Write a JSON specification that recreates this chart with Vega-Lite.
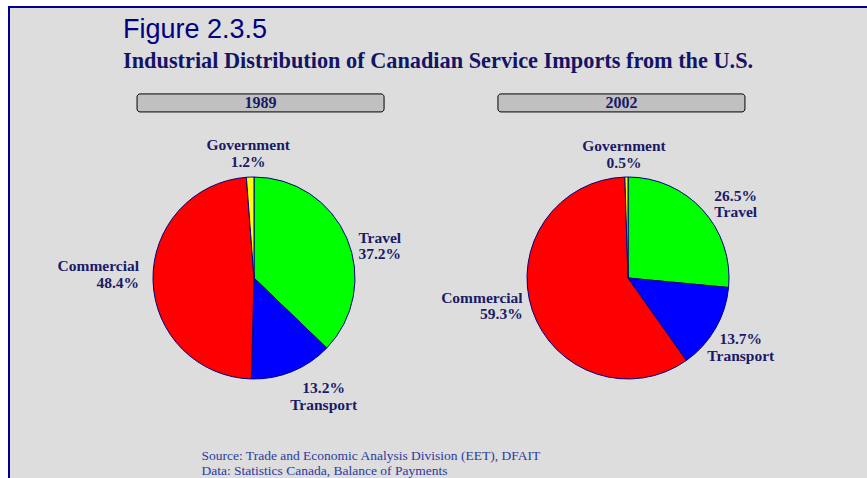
{
  "$schema": "https://vega.github.io/schema/vega-lite/v6.json",
  "width": 864,
  "height": 542,
  "autosize": {"type": "none"},
  "padding": {"left": 9, "top": 7, "right": -6, "bottom": -71},
  "background": "#FFFFFF",
  "view": {"fill": "#DDDDDD", "stroke": "#000090", "strokeWidth": 2},
  "title": {
    "text": "Figure 2.3.5",
    "subtitle": "Industrial Distribution of Canadian Service Imports from the U.S.",
    "anchor": "start",
    "frame": "group",
    "orient": "top",
    "dx": 114,
    "offset": -66,
    "font": "Liberation Sans",
    "fontSize": 27,
    "fontWeight": "normal",
    "color": "#000080",
    "subtitleFont": "Liberation Serif",
    "subtitleFontSize": 22.3,
    "subtitleFontWeight": "bold",
    "subtitleColor": "#141466",
    "subtitlePadding": 6
  },
  "datasets": {
    "shares": [
      {"year": "1989", "category": "Travel", "share": 37.2, "label": "Travel\n37.2%"},
      {"year": "1989", "category": "Transport", "share": 13.2, "label": "13.2%\nTransport"},
      {"year": "1989", "category": "Commercial", "share": 48.4, "label": "Commercial\n48.4%"},
      {"year": "1989", "category": "Government", "share": 1.2, "label": "Government\n1.2%"},
      {"year": "2002", "category": "Travel", "share": 26.5, "label": "26.5%\nTravel"},
      {"year": "2002", "category": "Transport", "share": 13.7, "label": "13.7%\nTransport"},
      {"year": "2002", "category": "Commercial", "share": 59.3, "label": "Commercial\n59.3%"},
      {"year": "2002", "category": "Government", "share": 0.5, "label": "Government\n0.5%"}
    ],
    "years": [{"year": "1989"}, {"year": "2002"}]
  },
  "resolve": {"scale": {"x": "independent", "y": "independent"}},
  "layer": [
    {
      "data": {"name": "years"},
      "encoding": {
        "x": {
          "field": "year", "type": "nominal",
          "scale": {"type": "point", "domain": ["1989", "2002"], "padding": 0.697},
          "axis": {
            "orient": "bottom", "labels": false, "ticks": false, "domain": false, "grid": false,
            "title": ["Source: Trade and Economic Analysis Division (EET), DFAIT", "Data: Statistics Canada, Balance of Payments"],
            "titleX": 192, "titleY": -90, "titleAlign": "left", "titleAnchor": "start", "titleBaseline": "alphabetic",
            "titleFont": "Liberation Serif", "titleFontSize": 13.5, "titleFontWeight": "normal",
            "titleColor": "#2b3aa0", "titleLineHeight": 15
          }
        },
        "y": {"datum": "header", "type": "nominal", "scale": {"type": "point", "align": 0.177}, "axis": null}
      },
      "layer": [
        {
          "mark": {"type": "rect", "width": 247, "height": 18, "cornerRadius": 3, "fill": "#C0C0C0", "stroke": "#000000", "strokeWidth": 1}
        },
        {
          "mark": {"type": "text", "font": "Liberation Serif", "fontWeight": "bold", "fontSize": 16, "color": "#1a1a66", "baseline": "middle"},
          "encoding": {
            "text": {"field": "year"}
          }
        }
      ]
    },
    {
      "data": {"name": "shares"},
      "transform": [
        {"filter": "datum.year == '1989'"},
        {"window": [{"op": "row_number", "as": "idx"}]}
      ],
      "encoding": {
        "x": {"field": "year", "type": "nominal", "scale": {"type": "point", "domain": ["1989", "2002"], "padding": 0.655}, "axis": null},
        "theta": {"field": "share", "type": "quantitative", "stack": true},
        "order": {"field": "idx", "type": "quantitative"}
      },
      "layer": [
        {
          "mark": {"type": "arc", "outerRadius": 101, "stroke": "#000080", "strokeWidth": 1},
          "encoding": {
            "color": {
              "field": "category", "type": "nominal",
              "scale": {"domain": ["Travel", "Transport", "Commercial", "Government"], "range": ["#00FF00", "#0000FF", "#FF0000", "#FFFF00"]},
              "legend": null
            }
          }
        },
        {
          "mark": {
            "type": "text", "radius": 128, "font": "Liberation Serif", "fontWeight": "bold", "fontSize": 15.5,
            "lineBreak": "\n", "lineHeight": 16.5, "color": "#1a1a66", "baseline": "middle",
            "align": {"expr": "datum.category === 'Commercial' ? 'right' : 'center'"},
            "dx": {"expr": "datum.category === 'Travel' ? 8 : datum.category === 'Transport' ? 21 : datum.category === 'Commercial' ? 13 : -1"},
            "dy": {"expr": "datum.category === 'Travel' ? 10 : datum.category === 'Transport' ? -8 : datum.category === 'Commercial' ? -15 : -5"}
          },
          "encoding": {
            "detail": {"field": "category"},
            "text": {"field": "label"}
          }
        }
      ]
    },
    {
      "data": {"name": "shares"},
      "transform": [
        {"filter": "datum.year == '2002'"},
        {"window": [{"op": "row_number", "as": "idx"}]}
      ],
      "encoding": {
        "x": {"field": "year", "type": "nominal", "scale": {"type": "point", "domain": ["1989", "2002"], "padding": 0.655}, "axis": null},
        "theta": {"field": "share", "type": "quantitative", "stack": true},
        "order": {"field": "idx", "type": "quantitative"}
      },
      "layer": [
        {
          "mark": {"type": "arc", "outerRadius": 101, "stroke": "#000080", "strokeWidth": 1},
          "encoding": {
            "color": {
              "field": "category", "type": "nominal",
              "scale": {"domain": ["Travel", "Transport", "Commercial", "Government"], "range": ["#00FF00", "#0000FF", "#FF0000", "#FFFF00"]},
              "legend": null
            }
          }
        },
        {
          "mark": {
            "type": "text", "radius": 128, "font": "Liberation Serif", "fontWeight": "bold", "fontSize": 15.5,
            "lineBreak": "\n", "lineHeight": 16.5, "color": "#1a1a66", "baseline": "middle",
            "align": {"expr": "datum.category === 'Commercial' ? 'right' : 'center'"},
            "dx": {"expr": "datum.category === 'Travel' ? 13 : datum.category === 'Transport' ? 2 : datum.category === 'Commercial' ? 16 : -2"},
            "dy": {"expr": "datum.category === 'Travel' ? 4 : datum.category === 'Transport' ? -3 : datum.category === 'Commercial' ? -21 : -4"}
          },
          "encoding": {
            "detail": {"field": "category"},
            "text": {"field": "label"}
          }
        }
      ]
    }
  ]
}
